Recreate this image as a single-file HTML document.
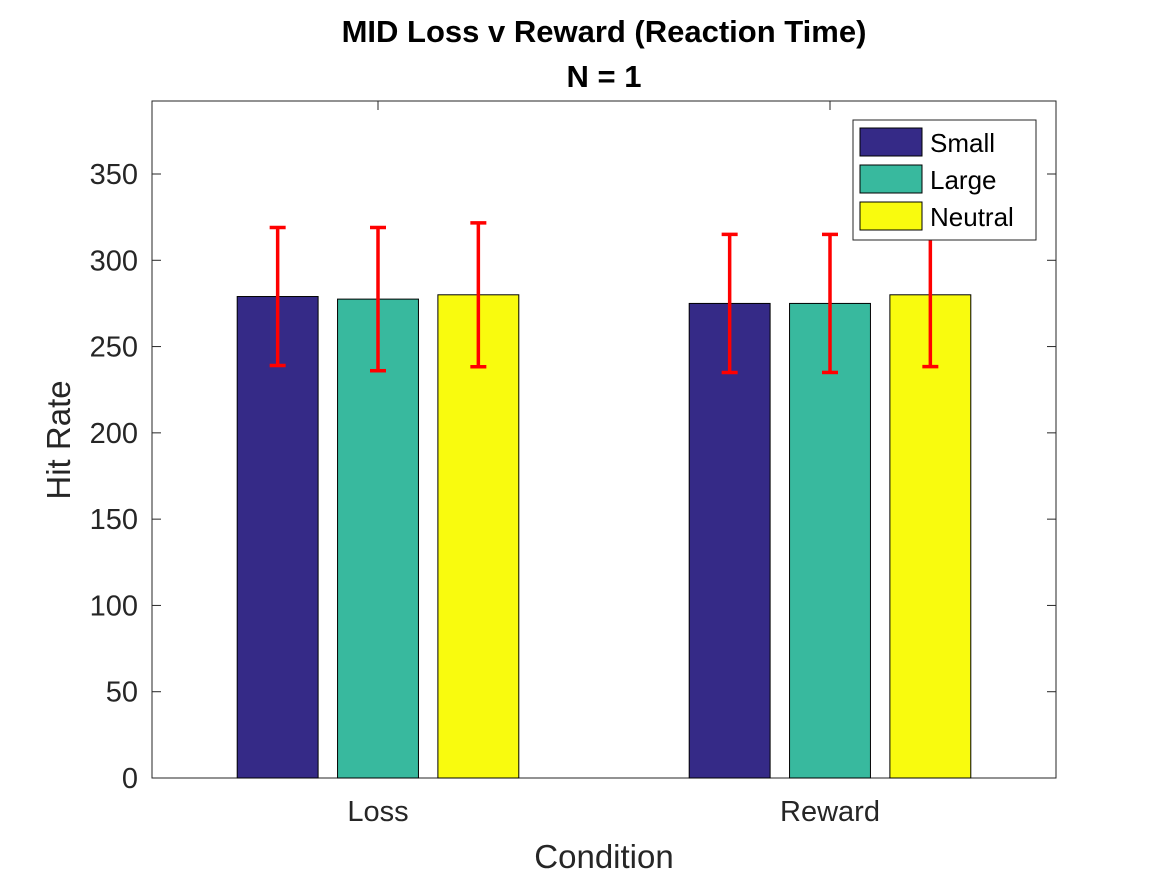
<!DOCTYPE html>
<html><head><meta charset="utf-8"><style>
body{margin:0;background:#fff;}
svg{display:block;font-family:"Liberation Sans",Arial,sans-serif;}
</style></head><body>
<svg id="chart" width="1167" height="875">
<text x="604" y="42" text-anchor="middle" font-size="31" font-weight="bold" fill="#000">MID Loss v Reward (Reaction Time)</text>
<text x="604" y="87" text-anchor="middle" font-size="31" font-weight="bold" fill="#000">N = 1</text>
<g id="plot"></g>
<text x="604" y="868" text-anchor="middle" font-size="33" fill="#262626">Condition</text>
<text transform="translate(70,440) rotate(-90)" text-anchor="middle" font-size="33" fill="#262626">Hit Rate</text>
</svg>
<script>
const categories = ["Loss", "Reward"];
const seriesNames = ["Small", "Large", "Neutral"];
const seriesColors = ["#352a87", "#38b99e", "#f9fb0e"];
const smallValues = [279, 275];
const largeValues = [277.5, 275];
const neutralValues = [280, 280];
const smallErr = [40, 40];
const largeErr = [41.5, 40];
const neutralErr = [41.7, 41.6];
const yTicks = [0, 50, 100, 150, 200, 250, 300, 350];

const NS = "http://www.w3.org/2000/svg";
const L = 152, R = 1056, T = 101, B = 778;
const yMax = 392.3;
const y = v => B - v / yMax * (B - T);
const x = v => L + (v - 0.5) / 2 * (R - L);
const g = document.getElementById('plot');
function mk(tag, attrs) { const e = document.createElementNS(NS, tag); for (const k in attrs) e.setAttribute(k, attrs[k]); g.appendChild(e); return e; }

let frame = mk('rect', {x: L, y: T, width: R - L, height: B - T, fill: '#fff', stroke: '#262626', 'stroke-width': 1});



yTicks.forEach(t => {
  const yy = y(t);
  mk('line', {x1: L, x2: L + 9, y1: yy, y2: yy, stroke: '#262626'});
  mk('line', {x1: R, x2: R - 9, y1: yy, y2: yy, stroke: '#262626'});
  const tx = mk('text', {x: L - 14, y: yy + 10, 'text-anchor': 'end', 'font-size': 29, fill: '#262626'});
  tx.textContent = t;
  
  
});

const allVals = [smallValues, largeValues, neutralValues];
const allErr = [smallErr, largeErr, neutralErr];
const offset = 0.222, bw = 0.179;
categories.forEach((c, i) => {
  const cx = x(i + 1);
  mk('line', {x1: cx, x2: cx, y1: B, y2: B - 9, stroke: '#262626'});
  mk('line', {x1: cx, x2: cx, y1: T, y2: T + 9, stroke: '#262626'});
  const tx = mk('text', {x: cx, y: B + 43, 'text-anchor': 'middle', 'font-size': 29, fill: '#262626'});
  tx.textContent = c;
  
  
  allVals.forEach((vals, s) => {
    const bc = i + 1 + (s - 1) * offset;
    const r = mk('rect', {x: x(bc - bw / 2), y: y(vals[i]), width: x(bc + bw / 2) - x(bc - bw / 2), height: B - y(vals[i]), fill: seriesColors[s], stroke: '#000', 'stroke-width': 1});
    
    
  });
});
categories.forEach((c, i) => {
  allVals.forEach((vals, s) => {
    const bc = x(i + 1 + (s - 1) * offset);
    const e = allErr[s][i];
    const yt = y(vals[i] + e), yb = y(vals[i] - e);
    const eg = document.createElementNS(NS, 'g');
    
    
    g.appendChild(eg);
    [[bc, bc, yt, yb], [bc - 8, bc + 8, yt, yt], [bc - 8, bc + 8, yb, yb]].forEach(p => {
      const l = document.createElementNS(NS, 'line');
      l.setAttribute('x1', p[0]); l.setAttribute('x2', p[1]); l.setAttribute('y1', p[2]); l.setAttribute('y2', p[3]);
      l.setAttribute('stroke', '#ff0000'); l.setAttribute('stroke-width', 3.5);
      eg.appendChild(l);
    });
  });
});

const lg = mk('rect', {x: 853, y: 120, width: 183, height: 120, fill: '#fff', stroke: '#262626'});


seriesNames.forEach((n, s) => {
  const yy = 128 + s * 37;
  const sw = mk('rect', {x: 860, y: yy, width: 62, height: 28, fill: seriesColors[s], stroke: '#000'});
  
  
  const t = mk('text', {x: 930, y: yy + 24, 'font-size': 26, fill: '#000'});
  t.textContent = n;
  
  
});
</script>
</body></html>
